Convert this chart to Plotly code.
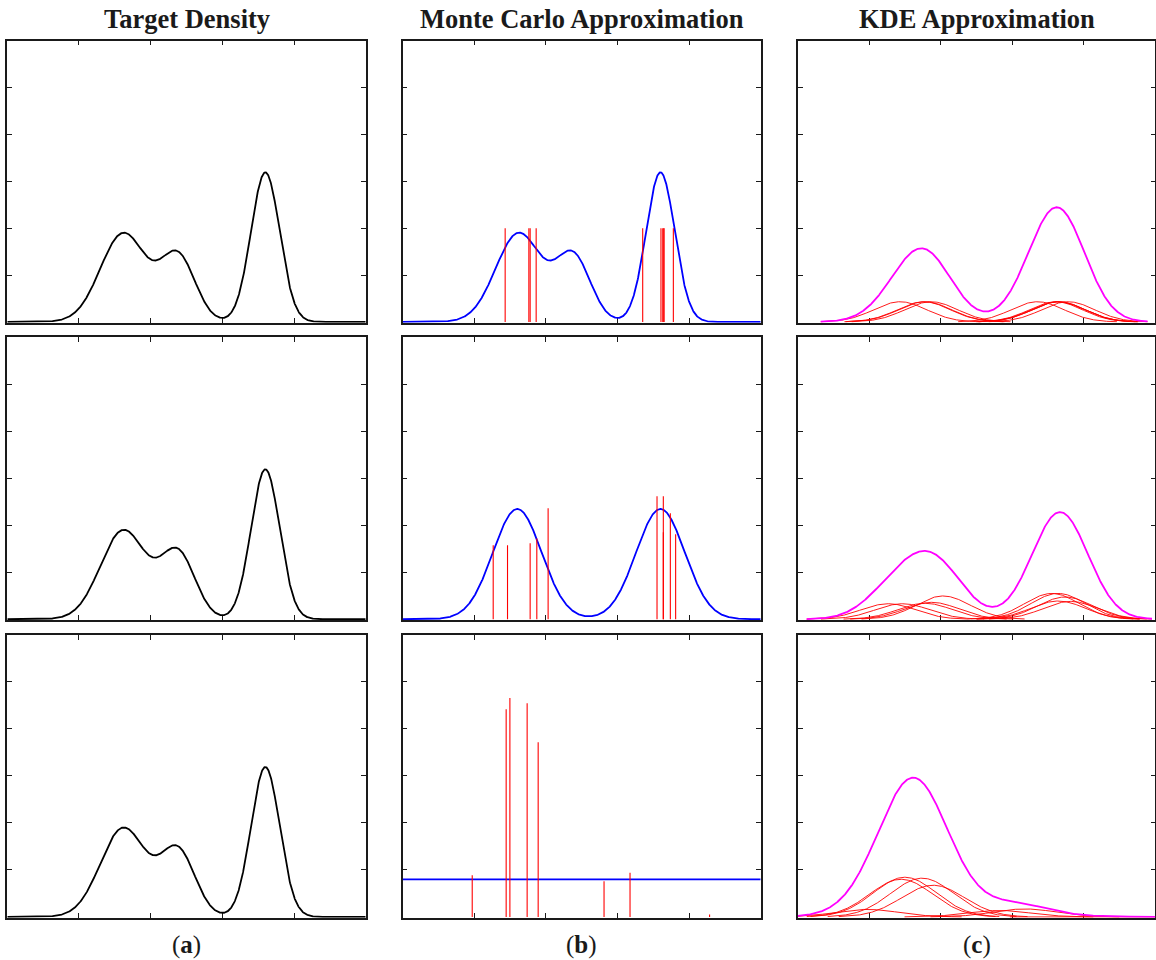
import numpy as np
import plotly.graph_objects as go
from plotly.subplots import make_subplots

# ---- axis extents (ticks only, no labels) ----
X_RANGE = [0.0, 5.0]
X_TICKS = [1, 2, 3, 4]
Y_RANGE = [-0.004, 1.5]
Y_TICKS = [0.25, 0.5, 0.75, 1.0, 1.25]

# ---- target density: Gaussian mixture ----
target_means = [1.62, 2.38, 3.60]
target_sds = [0.32, 0.24, 0.20]
target_weights = [0.38, 0.21, 0.40]

# ---- proposal densities (blue curves of column b) ----
proposal_means = [1.60, 3.60]
proposal_sds = [0.34, 0.34]
proposal_weights = [0.5, 0.5]
uniform_density = 0.2

# ---- weighted samples for each row ----
samples_row1 = [1.431, 1.762, 1.780, 1.864, 3.352, 3.607, 3.632, 3.648, 3.648, 3.780]
weights_row1 = [0.1, 0.1, 0.1, 0.1, 0.1, 0.1, 0.1, 0.1, 0.1, 0.1]

samples_row2 = [1.264, 1.464, 1.780, 1.873, 2.031, 3.552, 3.640, 3.640, 3.738, 3.812]
weights_row2 = [0.0787, 0.0787, 0.0809, 0.0858, 0.118, 0.131, 0.131, 0.0925, 0.1128, 0.0905]

samples_row3 = [0.971, 1.445, 1.497, 1.738, 1.892, 2.812, 3.175, 4.286]
weights_row3 = [0.0443, 0.221, 0.233, 0.2275, 0.186, 0.0379, 0.047, 0.0025]

STEM_SCALE = 5.0                     # stem height = weight * STEM_SCALE
kde_bandwidths = [0.37, 0.38, 0.44]  # kernel width per row

col_titles = ["Target Density", "Monte Carlo Approximation", "KDE Approximation"]
col_labels = ["a", "b", "c"]

BLACK = "#000000"
BLUE = "#0000ff"
RED = "#ff0000"
MAGENTA = "#ff00ff"


def normal_pdf(x, mu, sd):
    return np.exp(-0.5 * ((x - mu) / sd) ** 2) / (sd * np.sqrt(2 * np.pi))


def mixture(x, means, sds, weights):
    return sum(w * normal_pdf(x, m, s) for m, s, w in zip(means, sds, weights))


xs = np.linspace(X_RANGE[0], X_RANGE[1], 1201)
target = mixture(xs, target_means, target_sds, target_weights)
proposal = mixture(xs, proposal_means, proposal_sds, proposal_weights)
uniform = np.full_like(xs, uniform_density)

rows = [
    (samples_row1, weights_row1, target),
    (samples_row2, weights_row2, proposal),
    (samples_row3, weights_row3, uniform),
]

fig = make_subplots(rows=3, cols=3)

for r, (samples, weights, blue_curve) in enumerate(rows, start=1):
    # column a: target density
    fig.add_trace(go.Scatter(x=xs, y=target, mode="lines",
                             line=dict(color=BLACK, width=1.8)), row=r, col=1)

    # column b: proposal curve and weighted sample stems
    fig.add_trace(go.Scatter(x=xs, y=blue_curve, mode="lines",
                             line=dict(color=BLUE, width=1.8)), row=r, col=2)
    sx, sy = [], []
    for s, w in zip(samples, weights):
        sx += [s, s, None]
        sy += [0, w * STEM_SCALE, None]
    fig.add_trace(go.Scatter(x=sx, y=sy, mode="lines",
                             line=dict(color=RED, width=1.1)), row=r, col=2)

    # column c: weighted kernels and their sum
    bw = kde_bandwidths[r - 1]
    for s, w in zip(samples, weights):
        kx = np.linspace(max(X_RANGE[0], s - 3 * bw), min(X_RANGE[1], s + 3 * bw), 300)
        fig.add_trace(go.Scatter(x=kx, y=w * normal_pdf(kx, s, bw), mode="lines",
                                 line=dict(color=RED, width=0.9)), row=r, col=3)
    lo = max(X_RANGE[0], min(samples) - 3 * bw)
    hi = min(X_RANGE[1], max(samples) + 3 * bw)
    kx = np.linspace(lo, hi, 800)
    kde = sum(w * normal_pdf(kx, s, bw) for s, w in zip(samples, weights))
    fig.add_trace(go.Scatter(x=kx, y=kde, mode="lines",
                             line=dict(color=MAGENTA, width=1.8)), row=r, col=3)

W, H = 1156, 960
col_px = [(7.3, 365.7), (402.7, 760.7), (797.8, 1155.4)]
row_px = [(40.7, 322.7), (337.3, 620.0), (635.0, 917.7)]

axis_common = dict(showgrid=False, zeroline=False, showticklabels=False,
                   showline=True, linecolor="#1a1a1a", linewidth=1.5,
                   mirror="ticks", ticks="inside", ticklen=5, tickwidth=1,
                   tickcolor="#1a1a1a", layer="below traces", fixedrange=True)

for r in range(3):
    for c in range(3):
        idx = r * 3 + c + 1
        xname = "xaxis" if idx == 1 else f"xaxis{idx}"
        yname = "yaxis" if idx == 1 else f"yaxis{idx}"
        x0, x1 = col_px[c]
        y0, y1 = row_px[r]
        fig.layout[xname].update(domain=[x0 / W, x1 / W], range=X_RANGE,
                                 tickvals=X_TICKS, **axis_common)
        fig.layout[yname].update(domain=[1 - y1 / H, 1 - y0 / H], range=Y_RANGE,
                                 tickvals=Y_TICKS, **axis_common)

annotations = []
for c in range(3):
    cx = (col_px[c][0] + col_px[c][1]) / 2 / W
    annotations.append(dict(text=f"<b>{col_titles[c]}</b>", x=cx, y=1 - 19 / H,
                            xref="paper", yref="paper", xanchor="center", yanchor="middle",
                            showarrow=False,
                            font=dict(family="Liberation Serif", size=26.5, color="#1a1a1a")))
    annotations.append(dict(text=f"(<b>{col_labels[c]}</b>)", x=cx, y=1 - 945 / H,
                            xref="paper", yref="paper", xanchor="center", yanchor="middle",
                            showarrow=False,
                            font=dict(family="Liberation Serif", size=25, color="#1a1a1a")))

fig.update_layout(width=W, height=H, margin=dict(l=0, r=0, t=0, b=0),
                  paper_bgcolor="white", plot_bgcolor="white",
                  showlegend=False, annotations=annotations)

fig.write_html("out.html")
